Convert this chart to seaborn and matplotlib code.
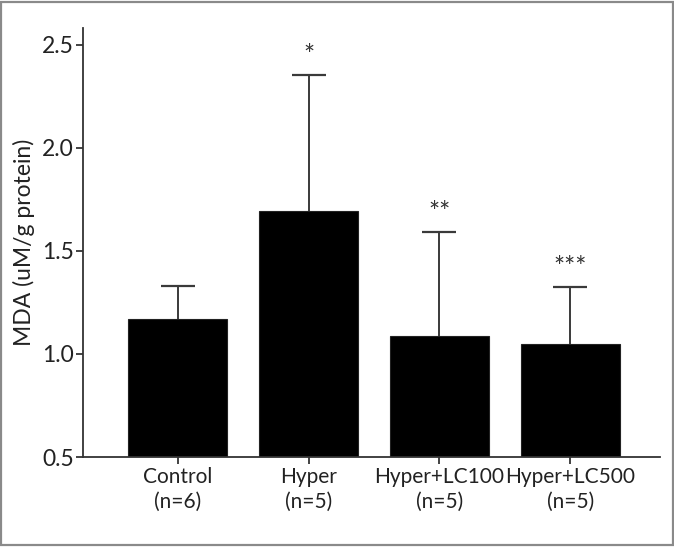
import matplotlib
matplotlib.use("Agg")
import matplotlib.pyplot as plt
import seaborn as sns
import numpy as np
import pandas as pd
from matplotlib.patches import Rectangle

groups = ["Control\n(n=6)", "Hyper\n(n=5)", "Hyper+LC100\n(n=5)", "Hyper+LC500\n(n=5)"]
means = [1.167, 1.691, 1.086, 1.050]
errors = [0.163, 0.660, 0.506, 0.275]
stars = ["", "*", "**", "***"]
yticks = [0.5, 1.0, 1.5, 2.0, 2.5]

sns.set_theme(style="ticks")
plt.rcParams['font.family'] = ['Lato', 'DejaVu Sans']

fig = plt.figure(figsize=(6.74, 5.47), dpi=100)
ax = fig.add_axes([0.1231, 0.1645, 0.979 - 0.1231, 0.9488 - 0.1645])

df = pd.DataFrame({"group": groups, "mean": means})
sns.barplot(data=df, x="group", y="mean", color="black", width=0.757,
            errorbar=None, ax=ax, edgecolor="#222222", linewidth=0.8, saturation=1)

xs = np.arange(len(groups))
eb = ax.errorbar(xs, means, yerr=[np.zeros(len(means)), errors], fmt="none",
                 ecolor="#3a3a3a", elinewidth=1.4, capsize=12, capthick=1.6, zorder=1)
# hide the lower caps (error bars are one-sided, upward only)
if len(eb[1]) >= 2:
    eb[1][0].set_visible(False)

for x, m, e, s in zip(xs, means, errors, stars):
    if s:
        ax.text(x, m + e + 0.09, s, ha="center", va="center", fontsize=19, color="#333333")

ax.set_ylim(0.5, 2.58)
ax.set_xlim(-0.726, 3.685)
ax.set_yticks(yticks)
ax.set_yticklabels([f"{v:.1f}" for v in yticks])
ax.set_xlabel("")
ax.set_ylabel("MDA (uM/g protein)", fontsize=16.5, color="#222222", labelpad=5)
ax.tick_params(axis="both", colors="#222222", length=5, width=1.2, direction="out")
ax.tick_params(axis="y", pad=1.5, labelsize=16.5)
ax.tick_params(axis="x", pad=2, labelsize=15)
for lbl in ax.get_xticklabels():
    lbl.set_linespacing(1.3)
for sp in ["top", "right"]:
    ax.spines[sp].set_visible(False)
for sp in ["left", "bottom"]:
    ax.spines[sp].set_color("#333333")
    ax.spines[sp].set_linewidth(1.3)

fig.patches.append(Rectangle((0.002, 0.003), 0.996, 0.994, transform=fig.transFigure,
                             fill=False, edgecolor="#8a8a8a", linewidth=1.6))

fig.savefig("out.png", dpi=100)
